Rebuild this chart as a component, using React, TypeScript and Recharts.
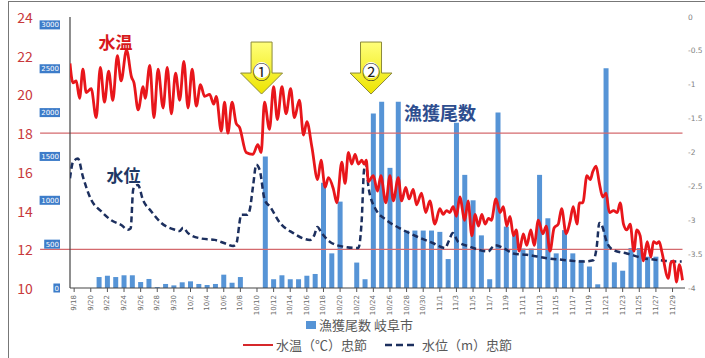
import React from 'react';
import {
  ComposedChart,
  Bar,
  Line,
  XAxis,
  YAxis,
  ReferenceLine,
  ReferenceDot,
  Legend,
} from 'recharts';

const dates: string[] = [
  '9/18', '9/19', '9/20', '9/21', '9/22', '9/23', '9/24', '9/25', '9/26', '9/27', '9/28', '9/29', '9/30',
  '10/1', '10/2', '10/3', '10/4', '10/5', '10/6', '10/7', '10/8', '10/9', '10/10', '10/11', '10/12', '10/13',
  '10/14', '10/15', '10/16', '10/17', '10/18', '10/19', '10/20', '10/21', '10/22', '10/23', '10/24', '10/25',
  '10/26', '10/27', '10/28', '10/29', '10/30', '10/31',
  '11/1', '11/2', '11/3', '11/4', '11/5', '11/6', '11/7', '11/8', '11/9', '11/10', '11/11', '11/12', '11/13',
  '11/14', '11/15', '11/16', '11/17', '11/18', '11/19', '11/20', '11/21', '11/22', '11/23', '11/24', '11/25',
  '11/26', '11/27', '11/28', '11/29', '11/30',
];

const catchCounts: number[] = [
  0, 0, 0, 125, 140, 125, 145, 145, 68, 103,
  10, 46, 30, 65, 76, 46, 34, 46, 152, 60,
  125, 0, 0, 1500, 100, 145, 100, 100, 140, 160,
  1200, 395, 985, 0, 290, 100, 1990, 2125, 1370, 2125,
  655, 655, 655, 655, 640, 330, 1885, 1290, 1000, 600,
  100, 2000, 700, 640, 450, 450, 1290, 795, 395, 660,
  395, 320, 245, 42, 2505, 293, 197, 456, 456, 357,
  357, 0, 0, 0,
];

// water temperature (°C) at Chusetsu, position in days from 9/18
const tempDay: number[] = [
  -0.5, -0.15, 0.25, 0.65, 1.05, 1.45, 2.05, 2.65, 3.15, 3.65, 4.15, 4.65, 5.2, 5.65, 6.3, 6.9, 7.2, 7.7, 8.3, 8.55,
  9.1, 9.6, 10.1, 10.7, 11.2, 11.7, 12.2, 12.7, 13.2, 13.7, 14.2, 14.7, 15.2, 15.7, 16.3, 16.8, 17.1, 17.7, 18.1, 18.5,
  19.0, 19.5, 19.9, 20.7, 21.5, 22.1, 22.5, 22.9, 23.5, 24.0, 24.45, 25.0, 25.5, 26.05, 26.5, 27.1, 27.6, 28.0, 28.6, 29.3,
  29.7, 30.2, 30.6, 31.2, 31.6, 32.2, 32.6, 33.0, 33.4, 33.8, 34.2, 34.6, 34.9, 35.15, 35.4, 36.0, 36.5, 36.9, 37.5, 38.0,
  38.4, 39.0, 39.4, 39.9, 40.3, 40.8, 41.2, 41.8, 42.3, 42.8, 43.4, 44.0, 44.4, 44.8, 45.2, 45.6, 46.0, 46.4, 47.0, 47.4,
  47.85, 48.25, 48.65, 49.05, 49.45, 49.85, 50.2, 50.75, 51.25, 51.65, 52.05, 52.45, 52.85, 53.2, 53.55, 54.05, 54.45, 54.95, 55.35, 55.85,
  56.4, 56.8, 57.25, 57.75, 58.25, 58.65, 59.2, 59.65, 60.05, 60.5, 60.8, 61.2, 61.7, 62.1, 62.4, 62.8, 63.2, 63.6, 64.0, 64.4,
  64.9, 65.35, 65.7, 66.1, 66.5, 66.9, 67.35, 67.7, 68.1, 68.5, 68.95, 69.4, 69.7, 70.1, 70.4, 70.7, 71.5, 71.8, 72.1, 72.5,
  72.8, 73.2,
];
const tempC: number[] = [
  21.6, 20.6, 20.7, 19.8, 21.3, 20.1, 20.3, 18.8, 21.4, 19.6, 21.2, 19.7, 22.0, 20.7, 22.3, 20.9, 20.6, 19.2, 20.4, 19.8,
  21.5, 18.8, 21.3, 19.3, 21.4, 19.0, 21.1, 19.7, 21.7, 19.3, 21.3, 19.4, 20.5, 19.9, 20.0, 19.5, 19.9, 18.1, 19.6, 18.0,
  19.6, 18.5, 18.3, 17.0, 16.9, 17.4, 17.0, 19.6, 18.2, 20.4, 18.7, 20.4, 19.0, 20.3, 18.8, 19.7, 17.9, 18.6, 17.3, 15.6,
  16.6, 15.2, 15.7, 15.1, 14.4, 16.5, 15.4, 17.0, 16.4, 16.9, 16.4, 16.6, 16.4, 16.6, 15.5, 15.8, 15.0, 15.8, 14.4, 15.8,
  14.5, 15.7, 14.5, 15.2, 14.6, 15.1, 14.3, 14.9, 13.9, 14.5, 13.3, 14.1, 13.8, 14.0, 13.9, 14.2, 13.7, 14.7, 13.5, 14.5,
  12.7, 13.8, 13.2, 13.8, 13.3, 13.6, 13.5, 14.6, 13.9, 14.2, 13.2, 13.7, 12.7, 13.0, 11.9, 12.8, 12.2, 13.0, 12.2, 13.5,
  12.8, 13.2, 11.9, 13.1, 13.3, 14.1, 12.8, 13.4, 14.2, 13.3, 14.4, 14.4, 15.8, 15.6, 16.0, 16.3, 15.4, 14.7, 14.9, 13.9,
  14.0, 13.9, 14.4, 13.3, 13.0, 13.3, 11.9, 13.0, 12.7, 11.4, 12.4, 11.6, 12.4, 12.3, 12.4, 11.9, 10.5, 11.3, 11.4, 10.3,
  11.2, 10.4,
];

// water level (m) at Chusetsu, position in days from 9/18
const levelDay: number[] = [
  -0.5, -0.14, 0.46, 1.06, 2.06, 3.27, 4.47, 5.67, 6.48, 6.8, 7.1, 7.29, 7.68, 8.28, 9.28, 10.49, 12.1, 12.7, 13.1, 13.7,
  15.3, 16.91, 18.12, 19.12, 19.5, 20.11, 20.8, 21.12, 21.52, 21.92, 22.33, 22.93, 23.57, 24.77, 26.37, 27.58, 28.38, 28.9, 29.26, 29.79,
  30.79, 32.39, 34.19, 34.6, 34.88, 35.12, 35.4, 36.2, 37.61, 39.21, 41.22, 43.22, 44.63, 45.1, 45.55, 46.22, 47.63, 48.03, 49.84, 50.3,
  50.64, 51.64, 52.85, 54.46, 56.86, 59.27, 61.27, 62.47, 62.88, 63.19, 63.48, 64.08, 64.88, 66.49, 68.5, 70.5, 72.1, 73.1,
];
const levelM: number[] = [
  -2.38, -2.14, -2.09, -2.36, -2.7, -2.87, -3.0, -3.07, -3.14, -3.12, -2.55, -2.5, -2.48, -2.7, -2.87, -3.04, -3.14, -3.16, -3.11, -3.19,
  -3.27, -3.29, -3.34, -3.38, -3.35, -2.92, -2.92, -2.85, -2.5, -2.18, -2.26, -2.7, -2.8, -3.04, -3.19, -3.27, -3.29, -3.22, -3.1, -3.19,
  -3.32, -3.39, -3.41, -3.0, -2.26, -2.16, -2.5, -2.82, -3.0, -3.12, -3.24, -3.34, -3.41, -3.3, -3.19, -3.32, -3.39, -3.41, -3.46, -3.4,
  -3.37, -3.41, -3.49, -3.51, -3.56, -3.59, -3.61, -3.59, -3.39, -3.04, -3.07, -3.32, -3.44, -3.49, -3.56, -3.59, -3.61, -3.61,
];

const tempTicks: number[] = [10, 12, 14, 16, 18, 20, 22, 24];
const countTicks: number[] = [0, 500, 1000, 1500, 2000, 2500, 3000];
const levelTicks: number[] = [0, -0.5, -1, -1.5, -2, -2.5, -3, -3.5, -4];

const barData = dates.map((date, i) => ({ date, count: catchCounts[i] }));
const tempData = tempDay.map((x, i) => ({ x, temp: tempC[i] }));
const levelData = levelDay.map((x, i) => ({ x, level: levelM[i] }));

const FONT = '"Noto Sans CJK JP", "Noto Sans", sans-serif';

const TempTick = (props: any) => {
  const { y, payload } = props;
  return (
    <text x={25} y={y} textAnchor="middle" dominantBaseline="central" fontSize={14} fontFamily={FONT} fill="#C8393C">
      {payload.value}
    </text>
  );
};

const CountTick = (props: any) => {
  const { y, payload } = props;
  const s = String(payload.value);
  const w = s.length * 4.6 + 2;
  return (
    <g>
      <rect x={60 - w} y={y - 4.5} width={w} height={9} fill="#3D7CC9" />
      <text x={59} y={y + 0.5} textAnchor="end" dominantBaseline="central" fontSize={7} fontFamily="DejaVu Sans" fill="#ffffff">
        {s}
      </text>
    </g>
  );
};

const LevelTick = (props: any) => {
  const { y, payload } = props;
  return (
    <text x={688} y={y} textAnchor="start" dominantBaseline="central" fontSize={7.5} fontFamily="DejaVu Sans" fill="#7F7F7F">
      {payload.value}
    </text>
  );
};

const DateTick = (props: any) => {
  const { x, y, payload } = props;
  const ty = y + 1;
  return (
    <text
      x={x}
      y={ty}
      transform={`rotate(-90 ${x} ${ty})`}
      textAnchor="end"
      dominantBaseline="central"
      fontSize={7}
      fontFamily="DejaVu Sans"
      fill="#6A6A6A"
    >
      {payload.value}
    </text>
  );
};

const makeArrow = (label: string) => (props: any) => {
  const { cx, cy } = props;
  return (
    <g>
      <defs>
        <linearGradient id="arrowFill" x1="0" y1="0" x2="0" y2="1">
          <stop offset="0%" stopColor="#FFFF7A" />
          <stop offset="100%" stopColor="#EDE400" />
        </linearGradient>
      </defs>
      <path
        d={`M${cx - 10.5},${cy - 52} h21 v31 h10.5 L${cx},${cy} L${cx - 21},${cy - 21} h10.5 Z`}
        fill="url(#arrowFill)"
        stroke="#8C8A3A"
        strokeWidth={1}
      />
      <circle cx={cx} cy={cy - 24} r={8} fill="#ffffff" />
      <text x={cx} y={cy - 23} textAnchor="middle" dominantBaseline="central" fontSize={18} fontFamily={FONT} fill="#222">
        {label}
      </text>
    </g>
  );
};

const makeText = (label: string, color: string, size: number) => (props: any) => {
  const { cx, cy } = props;
  return (
    <text x={cx} y={cy} textAnchor="middle" dominantBaseline="central" fontSize={size} fontWeight="bold" fontFamily={FONT} fill={color}>
      {label}
    </text>
  );
};

const LegendContent = () => (
  <div style={{ position: 'relative', width: 705, height: 358, fontFamily: FONT, fontSize: 13, color: '#595959' }}>
    <div style={{ position: 'absolute', left: 306, top: 316, display: 'flex', alignItems: 'center', whiteSpace: 'nowrap', lineHeight: '18px' }}>
      <span style={{ display: 'inline-block', width: 10, height: 8, background: '#5694D6', marginRight: 3 }} />
      <span>漁獲尾数 岐阜市</span>
    </div>
    <div style={{ position: 'absolute', left: 243, top: 336, display: 'flex', alignItems: 'center', whiteSpace: 'nowrap', lineHeight: '18px' }}>
      <svg width={30} height={6} style={{ marginRight: 3 }}>
        <line x1={0} y1={3} x2={30} y2={3} stroke="#D6282B" strokeWidth={2} />
      </svg>
      <span>水温（℃）忠節</span>
      <svg width={33} height={6} style={{ marginLeft: 18, marginRight: 4 }}>
        <line x1={0} y1={3} x2={33} y2={3} stroke="#1C2F5E" strokeWidth={2.5} strokeDasharray="7 4" />
      </svg>
      <span>水位（m）忠節</span>
    </div>
  </div>
);

export default function App() {
  return (
    <div style={{ position: 'absolute', left: 0, top: 0, width: 705, height: 358, background: '#ffffff', overflow: 'hidden' }}>
      <ComposedChart
        width={705}
        height={358}
        data={barData}
        margin={{ top: 17, right: 0, bottom: 40, left: 0 }}
        barCategoryGap="20%"
      >
        <XAxis
          xAxisId="cat"
          dataKey="date"
          interval={1}
          height={30}
          tick={<DateTick />}
          tickSize={4}
          tickLine={{ stroke: '#555' }}
          axisLine={{ stroke: '#444', strokeWidth: 1.2 }}
        />
        <XAxis xAxisId="num" type="number" dataKey="x" domain={[-0.5, 73.5]} allowDataOverflow hide />
        <YAxis
          yAxisId="c"
          orientation="left"
          width={32}
          domain={[0, 3090]}
          ticks={countTicks}
          tick={<CountTick />}
          axisLine={false}
          tickLine={false}
          allowDataOverflow
        />
        <YAxis
          yAxisId="t"
          orientation="left"
          width={38}
          domain={[10, 24]}
          ticks={tempTicks}
          tick={<TempTick />}
          axisLine={false}
          tickLine={false}
          allowDataOverflow
        />
        <YAxis
          yAxisId="w"
          orientation="right"
          width={20}
          domain={[-4, 0]}
          ticks={levelTicks}
          tick={<LevelTick />}
          axisLine={false}
          tickLine={false}
          allowDataOverflow
        />
        <ReferenceLine
          xAxisId="num"
          yAxisId="t"
          segment={[{ x: -4.1, y: 18 }, { x: 73.2, y: 18 }]}
          ifOverflow="visible"
          stroke="#D46A6E"
          strokeWidth={1.2}
        />
        <ReferenceLine
          xAxisId="num"
          yAxisId="t"
          segment={[{ x: -4.1, y: 12 }, { x: 73.2, y: 12 }]}
          ifOverflow="visible"
          stroke="#D46A6E"
          strokeWidth={1.2}
        />
        <ReferenceLine xAxisId="num" yAxisId="t" x={-0.5} stroke="#444" strokeWidth={1.2} />
        <Bar xAxisId="cat" yAxisId="c" dataKey="count" fill="#5694D6" isAnimationActive={false} />
        <Line
          xAxisId="num"
          yAxisId="w"
          data={levelData}
          dataKey="level"
          type="monotone"
          stroke="#1C2F5E"
          strokeWidth={2.5}
          strokeDasharray="6 3.5"
          dot={false}
          isAnimationActive={false}
        />
        <Line
          xAxisId="num"
          yAxisId="t"
          data={tempData}
          dataKey="temp"
          type="monotone"
          stroke="#E8161B"
          strokeWidth={2.8}
          dot={false}
          isAnimationActive={false}
        />
        <ReferenceDot xAxisId="num" yAxisId="t" x={4.98} y={22.76} shape={makeText('水温', '#D7191C', 17)} ifOverflow="visible" />
        <ReferenceDot xAxisId="num" yAxisId="t" x={5.94} y={15.84} shape={makeText('水位', '#1F3864', 17)} ifOverflow="visible" />
        <ReferenceDot xAxisId="num" yAxisId="t" x={44.03} y={19.07} shape={makeText('漁獲尾数', '#2E4E8F', 18)} ifOverflow="visible" />
        <ReferenceDot xAxisId="num" yAxisId="t" x={22.55} y={20.02} shape={makeArrow('①')} ifOverflow="visible" />
        <ReferenceDot xAxisId="num" yAxisId="t" x={35.72} y={20.02} shape={makeArrow('②')} ifOverflow="visible" />
        <Legend
          verticalAlign="middle"
          align="center"
          content={<LegendContent />}
          wrapperStyle={{ top: 0, left: 0, width: 705, height: 358, pointerEvents: 'none' }}
        />
      </ComposedChart>
      <div
        style={{
          position: 'absolute',
          left: 8,
          top: 1,
          width: 697,
          height: 357,
          borderTop: '1px solid #777',
          borderLeft: '1px solid #777',
          pointerEvents: 'none',
        }}
      />
    </div>
  );
}
